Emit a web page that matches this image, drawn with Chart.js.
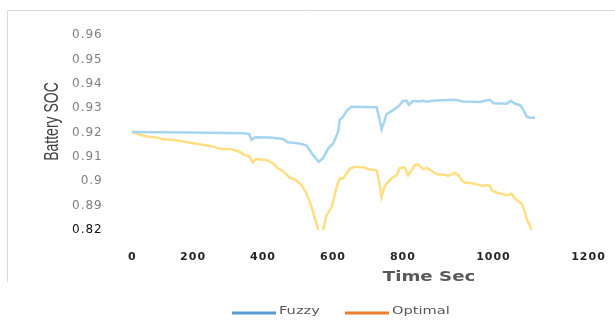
<!DOCTYPE html>
<html>
<head>
<meta charset="utf-8">
<script src="https://cdn.jsdelivr.net/npm/chart.js@4.4.1/dist/chart.umd.min.js"></script>
<style>
  html, body { margin: 0; padding: 0; background: #fff; }
  #wrap { width: 615px; height: 320px; position: relative; }
</style>
</head>
<body>
<div id="wrap"><canvas id="soc"></canvas></div>
<script>
// Tick positions and their printed labels
const xTickAt = [0, 160, 344, 528, 712, 950, 1200];
const xTickLabels = ['0', '200', '400', '600', '800', '1000', '1200'];
const yTickAt = [0.88, 0.89, 0.90, 0.91, 0.92, 0.93, 0.94, 0.95, 0.96];
const yTickLabels = ['0.82', '0.89', '0.9', '0.91', '0.92', '0.93', '0.94', '0.95', '0.96'];

const seriesNames = ['Fuzzy', 'Optimal'];

// Fuzzy controller: battery state of charge over time
const fuzzyTime = [0, 150, 297, 309, 315, 324, 363, 398, 411, 442, 460, 477, 492, 503, 517, 530, 543, 547, 556, 565, 578,
  644, 651, 657, 664, 670, 688, 701, 714, 723, 729, 740, 753, 767, 776, 797, 837, 850, 872, 916, 929,
  942, 951, 986, 997, 1008, 1021, 1030, 1039, 1047, 1061];
const fuzzySoc = [0.9202, 0.9200, 0.9197, 0.9193, 0.9169, 0.9180, 0.9179, 0.9173, 0.9160, 0.9155, 0.9146, 0.9107, 0.9080, 0.9094, 0.9135, 0.9155, 0.9203, 0.9252, 0.9265, 0.9289, 0.9306,
  0.9304, 0.9259, 0.9213, 0.9245, 0.9275, 0.9293, 0.9306, 0.9330, 0.9330, 0.9313, 0.9330, 0.9327, 0.9330, 0.9326, 0.9331, 0.9333, 0.9334, 0.9327, 0.9325, 0.9330,
  0.9334, 0.9320, 0.9318, 0.9330, 0.9318, 0.9313, 0.9293, 0.9265, 0.9261, 0.9261];

// Optimal controller: battery state of charge over time
const optimalTime = [0, 17, 43, 69, 82, 113, 139, 174, 210, 236, 262, 284, 297, 308, 318, 326, 354, 372, 385, 398,
  416, 429, 447, 460, 473, 486, 494, 502, 512, 526, 539, 547, 556, 574, 587, 613, 622, 644, 651, 657,
  666, 683, 697, 705, 718, 727, 736, 745, 753, 767, 776, 789, 802, 824, 832, 850, 859, 868, 876, 898,
  916, 925, 933, 942, 947, 960, 973, 986, 999, 1008, 1017, 1026, 1034, 1040, 1045, 1061];
const optimalSoc = [0.9203, 0.9193, 0.9183, 0.9179, 0.9172, 0.9169, 0.9162, 0.9153, 0.9144, 0.9132, 0.9131, 0.9121, 0.9107, 0.9104, 0.9077, 0.9091, 0.9087, 0.9073, 0.9052, 0.9041,
  0.9014, 0.9008, 0.8984, 0.8949, 0.8894, 0.8826, 0.8780, 0.8790, 0.8860, 0.8894, 0.8977, 0.9011, 0.9011, 0.9052, 0.9059, 0.9056, 0.9049, 0.9045, 0.8997, 0.8935,
  0.8983, 0.9011, 0.9025, 0.9055, 0.9056, 0.9025, 0.9045, 0.9066, 0.9069, 0.9049, 0.9055, 0.9042, 0.9029, 0.9027, 0.9022, 0.9034, 0.9025, 0.9004, 0.8995, 0.8991,
  0.8984, 0.8981, 0.8984, 0.8981, 0.8963, 0.8953, 0.8949, 0.8942, 0.8949, 0.8929, 0.8918, 0.8908, 0.8873, 0.8839, 0.8826, 0.8760];

const lineColors = ['#a5d5f1', '#ffdf82'];
const legendColors = ['#5b9bd5', '#ed7d31'];

const toPoints = (xs, ys) => xs.map((x, i) => ({ x: x, y: ys[i] }));

// Wider glyph spacing for the y tick text
const spacingPlugin = {
  id: 'spacing',
  beforeLayout(chart) { chart.ctx.letterSpacing = '1px'; },
  beforeDraw(chart) { chart.ctx.letterSpacing = '1px'; }
};

// Light outline along the top and left of the figure
const framePlugin = {
  id: 'frame',
  beforeDraw(chart) {
    const ctx = chart.ctx;
    ctx.save();
    ctx.strokeStyle = '#d9d9d9';
    ctx.lineWidth = 1;
    ctx.beginPath();
    ctx.moveTo(7.5, 282);
    ctx.lineTo(7.5, 10.5);
    ctx.lineTo(615, 10.5);
    ctx.stroke();
    ctx.restore();
  }
};

// Time tick labels, axis titles and legend, drawn with widened lettering
const captionPlugin = {
  id: 'captions',
  afterDraw(chart) {
    const ctx = chart.ctx;
    const xScale = chart.scales.x;
    ctx.save();

    // time tick labels placed through the x scale
    ctx.letterSpacing = '1px';
    ctx.font = 'bold 11px "DejaVu Sans", sans-serif';
    ctx.fillStyle = '#262626';
    ctx.textAlign = 'center';
    ctx.textBaseline = 'middle';
    xTickAt.forEach((v, i) => {
      ctx.fillText(xTickLabels[i], xScale.getPixelForValue(v) + 0.5, 257);
    });
    ctx.letterSpacing = '0px';

    // y-axis title
    ctx.save();
    ctx.translate(52.5, 121.5);
    ctx.scale(1.4, 1);
    ctx.rotate(-Math.PI / 2);
    ctx.font = '14px "Liberation Sans", Arial, sans-serif';
    ctx.fillStyle = '#404040';
    ctx.textAlign = 'center';
    ctx.textBaseline = 'middle';
    ctx.fillText('Battery SOC', 0, 0);
    ctx.restore();

    // x-axis title
    ctx.save();
    ctx.translate(429, 277.5);
    ctx.scale(1.3, 1);
    ctx.font = 'bold 14px "DejaVu Sans", sans-serif';
    ctx.fillStyle = '#595959';
    ctx.textAlign = 'center';
    ctx.textBaseline = 'middle';
    ctx.fillText('Time Sec', 0, 0);
    ctx.restore();

    // legend
    const starts = [232, 345];
    chart.data.datasets.forEach((ds, i) => {
      const x0 = starts[i];
      ctx.strokeStyle = legendColors[i];
      ctx.lineWidth = 3;
      ctx.beginPath();
      ctx.moveTo(x0, 313);
      ctx.lineTo(x0 + 44, 313);
      ctx.stroke();
      ctx.save();
      ctx.translate(x0 + 47, 311);
      ctx.scale(1.33, 1);
      ctx.font = '11px "DejaVu Sans", sans-serif';
      ctx.fillStyle = '#595959';
      ctx.textAlign = 'left';
      ctx.textBaseline = 'middle';
      ctx.fillText(ds.label, 0, 0);
      ctx.restore();
    });
    ctx.restore();
  }
};

new Chart(document.getElementById('soc'), {
  type: 'line',
  data: {
    datasets: [
      {
        label: seriesNames[0],
        data: toPoints(fuzzyTime, fuzzySoc),
        borderColor: lineColors[0],
        backgroundColor: lineColors[0],
        borderWidth: 2.5,
        pointRadius: 0,
        tension: 0
      },
      {
        label: seriesNames[1],
        data: toPoints(optimalTime, optimalSoc),
        borderColor: lineColors[1],
        backgroundColor: lineColors[1],
        borderWidth: 2.5,
        pointRadius: 0,
        tension: 0
      }
    ]
  },
  options: {
    responsive: true,
    maintainAspectRatio: false,
    animation: false,
    layout: { padding: { left: 69, right: 27, top: 35, bottom: 90 } },
    plugins: {
      legend: { display: false },
      tooltip: { enabled: false }
    },
    scales: {
      x: {
        type: 'linear',
        min: 0,
        max: 1200,
        grid: { display: false, drawTicks: false },
        border: { display: false },
        afterBuildTicks: (axis) => { axis.ticks = xTickAt.map(v => ({ value: v })); },
        ticks: { display: false }
      },
      y: {
        type: 'linear',
        min: 0.88,
        max: 0.96,
        grid: { display: false, drawTicks: true, tickLength: 26 },
        border: { display: false },
        afterBuildTicks: (axis) => { axis.ticks = yTickAt.map(v => ({ value: v })); },
        ticks: {
          padding: 3,
          color: (c) => (c.index === 0 ? '#111111' : '#7f7f7f'),
          font: { family: '"DejaVu Sans", sans-serif', size: 12 },
          callback: (value, index) => yTickLabels[index]
        }
      }
    }
  },
  plugins: [spacingPlugin, framePlugin, captionPlugin]
});
</script>
</body>
</html>
